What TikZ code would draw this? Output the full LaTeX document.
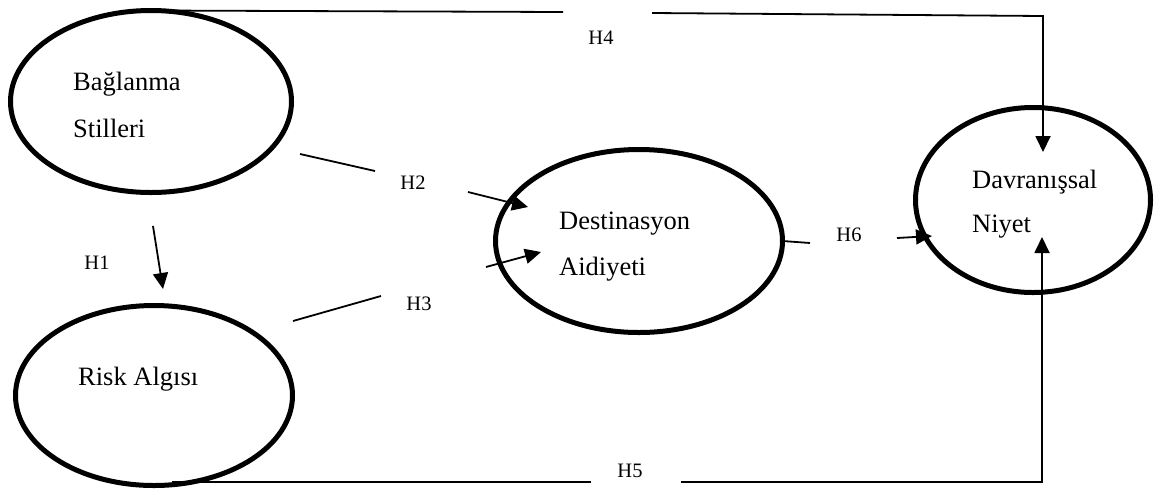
\documentclass[tikz,border=0pt]{standalone}
\usepackage{fontspec}
\setmainfont{Liberation Serif}
\usetikzlibrary{shapes.geometric,arrows.meta}
\begin{document}
\begin{tikzpicture}[x=1pt,y=-1pt,
  construct/.style={ellipse, draw, line width=5pt, inner sep=0pt, outer sep=0pt},
  conn/.style={line width=1.8pt},
  arr/.style={conn, -{Triangle[length=16pt,width=15pt]}},
  lbl/.style={font=\fontsize{20.5}{24}\selectfont, inner sep=0pt},
  txt/.style={font=\fontsize{26.5}{30}\selectfont, inner sep=0pt, anchor=base west}]
\useasboundingbox (0,0) rectangle (1156,491);
\fill[white] (0,0) rectangle (1156,491);

% constructs
\node[construct, minimum width=281pt, minimum height=182pt] (A) at (151,101.5) {};
\node[construct, minimum width=277pt, minimum height=180pt] (B) at (154,395.5) {};
\node[construct, minimum width=287pt, minimum height=183pt] (C) at (639,241) {};
\node[construct, minimum width=235pt, minimum height=185pt] (D) at (1033,200) {};

% texts
\node[txt] (tA1) at (73,90) {Bağlanma};
\node[txt] (tA2) at (73,137) {Stilleri};
\node[txt] (tB) at (78,385) {Risk Algısı};
\node[txt] (tC1) at (559,229) {Destinasyon};
\node[txt] (tC2) at (559,275) {Aidiyeti};
\node[txt] (tD1) at (972,188) {Davranışsal};
\node[txt] (tD2) at (972,232) {Niyet};

% labels
\node[lbl] (H1) at (97,263) {H1};
\node[lbl] (H2) at (413,183) {H2};
\node[lbl] (H3) at (419,304) {H3};
\node[lbl] (H4) at (601,37.5) {H4};
\node[lbl] (H5) at (630,471) {H5};
\node[lbl] (H6) at (849,235) {H6};

% coordinates
\coordinate (h1s) at (153,226);
\coordinate (h1e) at (163,289);
\coordinate (h2a) at (300,154);
\coordinate (h2b) at (375,171);
\coordinate (h2c) at (468,192);
\coordinate (h2e) at (528,207);
\coordinate (h3a) at (293,321);
\coordinate (h3b) at (381,296);
\coordinate (h3c) at (486,267);
\coordinate (h3e) at (541,252);
\coordinate (h4a) at (563,12);
\coordinate (h4b) at (652,13);
\coordinate (h4k) at (1043,16);
\coordinate (h4e) at (1043,152);
\coordinate (h5s) at (172,482);
\coordinate (h5a) at (591,482);
\coordinate (h5b) at (681,482);
\coordinate (h5k) at (1042,482);
\coordinate (h5e) at (1042,237);
\coordinate (h6a) at (810,243);
\coordinate (h6b) at (897,238);
\coordinate (h6e) at (932,236);

% connectors
\draw[arr] (h1s) -- (h1e);
\draw[conn] (h2a) -- (h2b);
\draw[arr] (h2c) -- (h2e);
\draw[conn] (h3a) -- (h3b);
\draw[arr] (h3c) -- (h3e);
\draw[conn] (A.north) -- (h4a);
\draw[arr] (h4b) -- (h4k) -- (h4e);
\draw[conn] (h5s) -- (h5a);
\draw[arr] (h5b) -- (h5k) -- (h5e);
\draw[conn] (C.east) -- (h6a);
\draw[arr] (h6b) -- (h6e);
\end{tikzpicture}
\end{document}
